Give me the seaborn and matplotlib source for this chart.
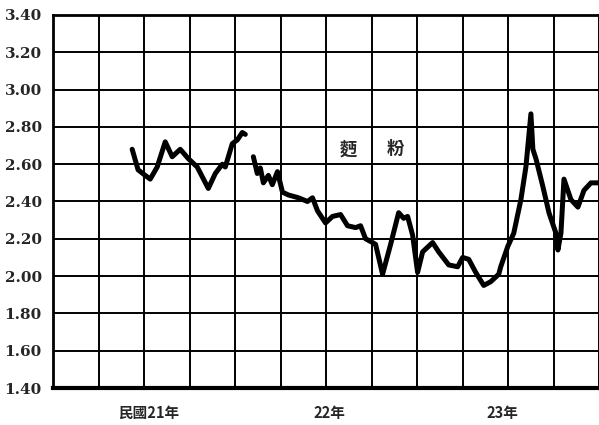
import matplotlib
matplotlib.use("Agg")
import matplotlib.pyplot as plt
import seaborn as sns
import pandas as pd
import numpy as np

# months since start of 民國21年 (0..36), flour price
seg1_month = [5.22, 5.61, 6.08, 6.41, 6.87, 7.40, 7.86, 8.39, 8.92, 9.51, 10.24, 10.70,
              11.16, 11.36, 11.82, 12.15, 12.48, 12.68]
seg1_price = [2.68, 2.57, 2.54, 2.52, 2.585, 2.72, 2.64, 2.68, 2.63, 2.585, 2.47, 2.55,
              2.60, 2.585, 2.71, 2.73, 2.77, 2.76]

seg2_month = [13.21, 13.47, 13.67, 13.87, 14.20, 14.46, 14.80, 15.13, 15.52, 16.18, 16.78,
              17.11, 17.44, 17.97, 18.43, 18.96, 19.42, 19.95, 20.28, 20.61, 21.07,
              21.27, 21.73, 22.26, 22.79, 23.12, 23.38, 23.71, 24.04, 24.37, 25.03, 25.43,
              26.09, 26.68, 27.01, 27.41, 27.87, 28.40, 28.86, 29.39,
              29.52, 29.99, 30.38, 30.85, 31.18, 31.51, 31.64, 31.84, 32.30, 32.70, 33.16,
              33.29, 33.49, 33.69, 34.15, 34.61, 35.01, 35.47, 36.0]
seg2_price = [2.64, 2.55, 2.58, 2.50, 2.54, 2.49, 2.56, 2.45, 2.435, 2.42, 2.40,
              2.42, 2.35, 2.285, 2.32, 2.33, 2.27, 2.26, 2.27, 2.20, 2.18,
              2.17, 2.01, 2.17, 2.34, 2.31, 2.32, 2.22, 2.02, 2.13, 2.18, 2.13,
              2.06, 2.05, 2.10, 2.09, 2.02, 1.95, 1.97, 2.01,
              2.05, 2.16, 2.23, 2.41, 2.585, 2.87, 2.68, 2.63, 2.48, 2.34, 2.23,
              2.14, 2.23, 2.52, 2.41, 2.37, 2.46, 2.50, 2.50]

y_ticks = [1.40, 1.60, 1.80, 2.00, 2.20, 2.40, 2.60, 2.80, 3.00, 3.20, 3.40]
y_tick_labels = ["1.40", "1.60", "1.80", "2.00", "2.20", "2.40", "2.60", "2.80", "3.00", "3.20", "3.40"]
year_ticks = [6.3, 18.2, 29.6]
year_labels = ["民國21年", "22年", "23年"]

df = pd.DataFrame({
    "month": seg1_month + seg2_month,
    "price": seg1_price + seg2_price,
    "segment": ["a"] * len(seg1_month) + ["b"] * len(seg2_month),
})

sns.set_style("white")
plt.rcParams["font.family"] = ["Noto Sans CJK TC", "DejaVu Sans"]

fig = plt.figure(figsize=(5.99, 4.25), dpi=100)
ax = fig.add_axes([53 / 599, 37 / 425, 546 / 599, 373 / 425])

sns.lineplot(data=df, x="month", y="price", units="segment", estimator=None,
             color="black", linewidth=3.6, ax=ax, legend=False)

ax.set_xlim(0, 36)
ax.set_ylim(1.40, 3.40)

# grid
major_x = list(range(0, 37, 3))
for xv in major_x[1:-1]:
    ax.axvline(xv, color="black", lw=1.4, zorder=0)
for yv in y_ticks[1:-1]:
    ax.axhline(yv, color="black", lw=1.4, zorder=0)

ax.set_yticks(y_ticks)
ax.set_yticklabels(y_tick_labels, family="DejaVu Serif", fontweight="bold", fontsize=11)
ax.tick_params(axis="y", length=0, pad=8)

ax.set_xticks(year_ticks)
ax.set_xticklabels(year_labels, fontweight="bold", fontsize=10.5)
ax.tick_params(axis="x", which="major", length=0, pad=12)
minor = [m for m in range(1, 36) if m % 3 != 0]
ax.set_xticks(minor, minor=True)
ax.tick_params(axis="x", which="minor", direction="in", length=4, width=1.2, color="black")

for side in ["left", "top"]:
    ax.spines[side].set_color("black")
    ax.spines[side].set_linewidth(2.0)
ax.spines["bottom"].set_color("black")
ax.spines["bottom"].set_linewidth(3.0)
ax.spines["right"].set_color("black")
ax.spines["right"].set_linewidth(1.4)

ax.set_xlabel("")
ax.set_ylabel("")

ax.text(19.5, 2.68, "麪", fontsize=12.5, fontweight="bold", ha="center", va="center")
ax.text(22.6, 2.68, "粉", fontsize=12.5, fontweight="bold", ha="center", va="center")

fig.savefig("out.png", dpi=100)
